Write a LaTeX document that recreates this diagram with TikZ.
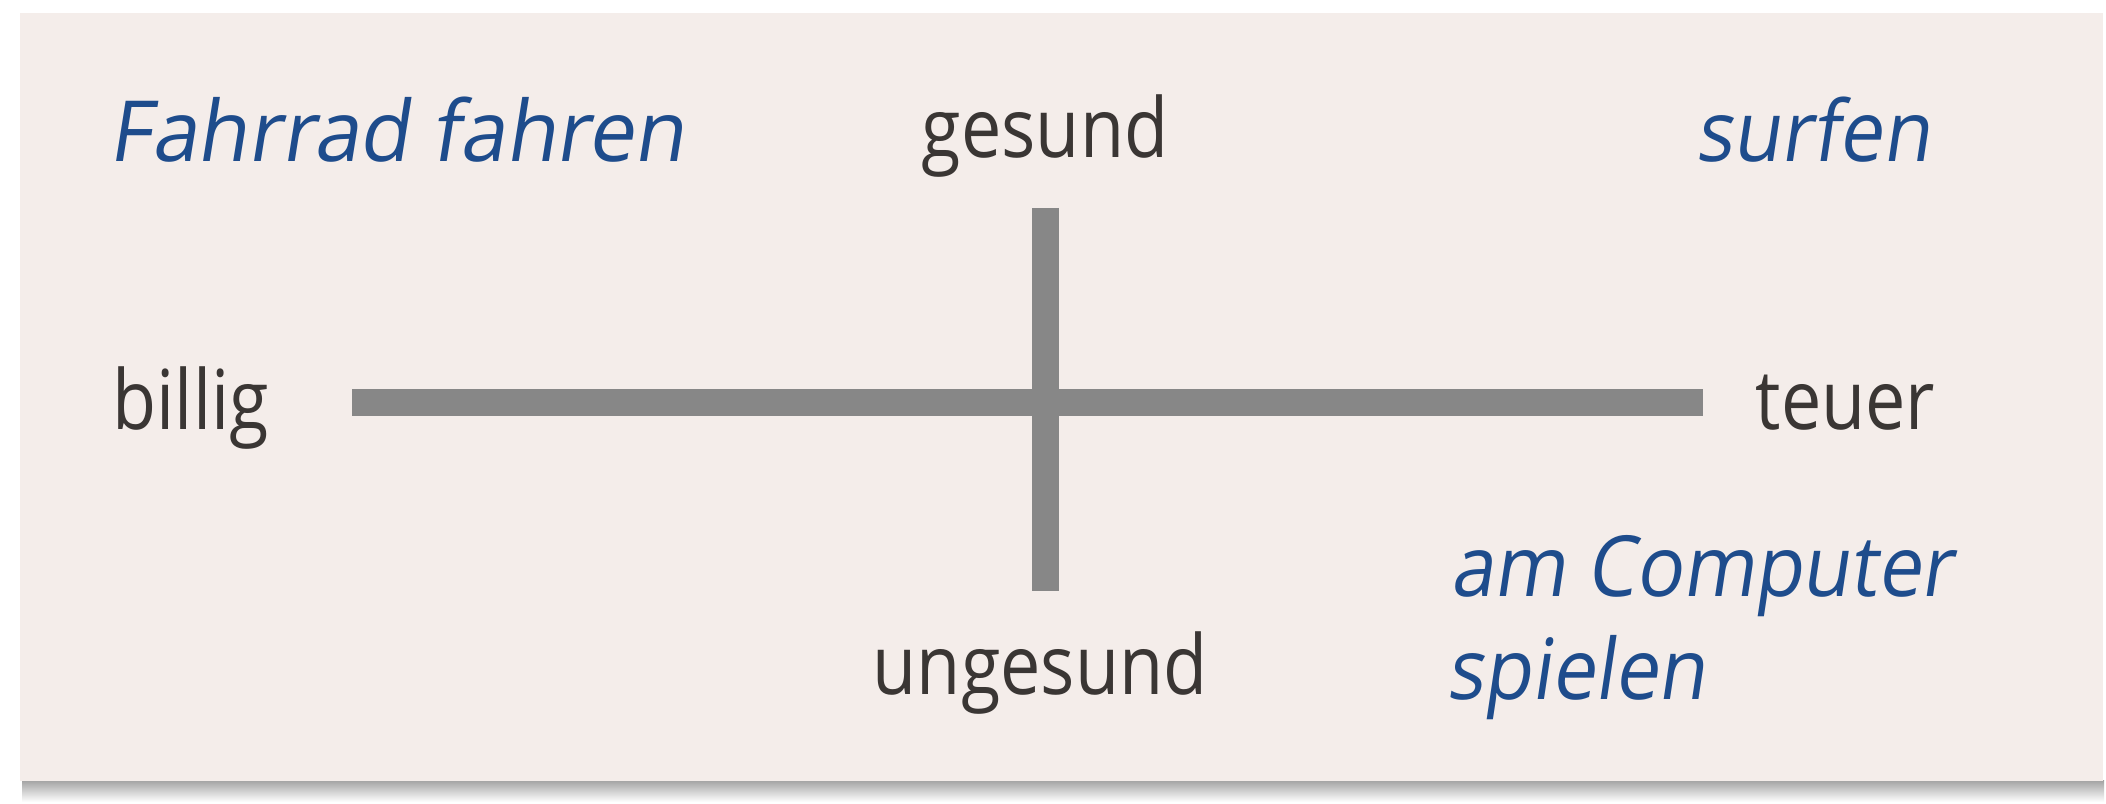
\documentclass[tikz,border=0pt]{standalone}
\usepackage{fontspec}
\setmainfont{Open Sans}[FakeStretch=0.87]
\newfontfamily\handfont{Open Sans}[FakeStretch=0.92,FakeSlant=0.15]
\definecolor{panel}{HTML}{F4EDEA}
\definecolor{barcol}{HTML}{878787}
\definecolor{labelcol}{HTML}{3A3634}
\definecolor{inkblue}{HTML}{1E4C8C}
\begin{document}
\begin{tikzpicture}[x=0.01cm,y=-0.01cm,
  axislabel/.style={inner sep=0pt,text=labelcol,font=\fontsize{23.5pt}{28pt}\selectfont},
  handlabel/.style={inner sep=0pt,text=inkblue,font=\handfont\fontsize{24pt}{29pt}\selectfont},
  axisbar/.style={draw=barcol,line width=0.27cm,line cap=butt}]
% page and panel
\useasboundingbox (0,0) rectangle (2106,804);
\fill[white] (0,0) rectangle (2106,804);
\shade[top color=black!35,bottom color=white] (22,781) rectangle (2104,802);
\fill[panel] (20,13) rectangle (2103,781);
% axis end points
\coordinate (L) at (352,402.5);
\coordinate (R) at (1703,402.5);
\coordinate (T) at (1045.5,208);
\coordinate (B) at (1045.5,591);
\draw[axisbar] (L) -- (R);
\draw[axisbar] (T) -- (B);
% axis labels
\node[axislabel,anchor=base] (gesund) at (1045,158) {gesund};
\node[axislabel,anchor=base] (ungesund) at (1040,695) {ungesund};
\node[axislabel,anchor=base west] (billig) at (112,430) {billig};
\node[axislabel,anchor=base west] (teuer) at (1755,430) {teuer};
% handwritten activities
\node[handlabel,anchor=base west,xscale=1.06,transform shape] (fahrrad) at (108,162) {Fahrrad\hspace{0.25em}fahren};
\node[handlabel,anchor=base west] (surfen) at (1695,162) {surfen};
\node[handlabel,anchor=base west] (computer) at (1450,597) {am Computer};
\node[handlabel,anchor=base west] (spielen) at (1446,700) {spielen};
\end{tikzpicture}
\end{document}
